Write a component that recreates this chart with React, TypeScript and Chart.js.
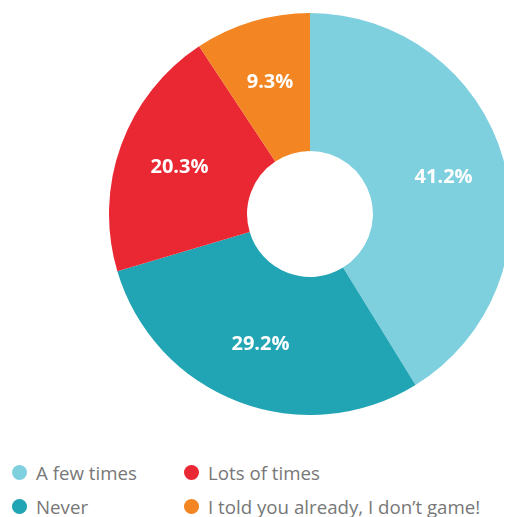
import React, { useEffect, useRef } from "react";
import { Chart, registerables } from "chart.js";

Chart.register(...registerables);

const categories = ["A few times", "Never", "Lots of times", "I told you already, I don\u2019t game!"];
const values = [41.2, 29.2, 20.3, 9.3];
const colors = ["#7FD0DF", "#21A4B3", "#EA2834", "#F38623"];
// legend order as shown (two columns, column-major)
const legendOrder = [0, 2, 1, 3];

const labelPlugin = {
  id: "sliceLabels",
  afterDatasetsDraw(chart: any) {
    const ctx = chart.ctx;
    const meta = chart.getDatasetMeta(0);
    ctx.save();
    ctx.fillStyle = "#ffffff";
    ctx.font = "bold 20px 'Open Sans'";
    ctx.textAlign = "center";
    ctx.textBaseline = "middle";
    meta.data.forEach((arc: any, i: number) => {
      const p = arc.getProps(["x", "y", "startAngle", "endAngle", "innerRadius", "outerRadius"], true);
      const mid = (p.startAngle + p.endAngle) / 2;
      const r = p.innerRadius + 0.55 * (p.outerRadius - p.innerRadius);
      const x = p.x + Math.cos(mid) * r;
      const y = p.y + Math.sin(mid) * r;
      ctx.fillText(values[i].toFixed(1) + "%", x, y + 1);
    });
    ctx.restore();
  },
};

export default function App() {
  const ref = useRef<HTMLCanvasElement | null>(null);
  useEffect(() => {
    if (!ref.current) return;
    const chart = new Chart(ref.current, {
      type: "doughnut",
      data: {
        labels: categories,
        datasets: [
          {
            data: values,
            backgroundColor: colors,
            borderWidth: 0,
            hoverOffset: 0,
          },
        ],
      },
      options: {
        animation: false,
        responsive: true,
        maintainAspectRatio: false,
        cutout: "31.3%",
        layout: { padding: 0 },
        plugins: {
          legend: { display: false },
          tooltip: { enabled: false },
        },
      },
      plugins: [labelPlugin],
    });
    return () => chart.destroy();
  }, []);

  return (
    <div style={{ position: "relative", width: 496, height: 509, fontFamily: "'Open Sans', sans-serif" }}>
      <div style={{ position: "absolute", left: 101, top: 5, width: 402, height: 402 }}>
        <canvas ref={ref} />
      </div>
      <div
        style={{
          position: "absolute",
          left: 4,
          top: 447,
          display: "grid",
          gridTemplateColumns: "172px auto",
          gridAutoRows: "34px",
          gridAutoFlow: "row",
        }}
      >
        {legendOrder.map((idx) => (
          <div key={idx} style={{ display: "flex", alignItems: "center", color: "#777777", fontSize: 18.7, whiteSpace: "nowrap" }}>
            <span
              style={{
                display: "inline-block",
                width: 15,
                height: 15,
                borderRadius: "50%",
                background: colors[idx],
                marginRight: 9,
              }}
            />
            <span>{categories[idx]}</span>
          </div>
        ))}
      </div>
    </div>
  );
}
